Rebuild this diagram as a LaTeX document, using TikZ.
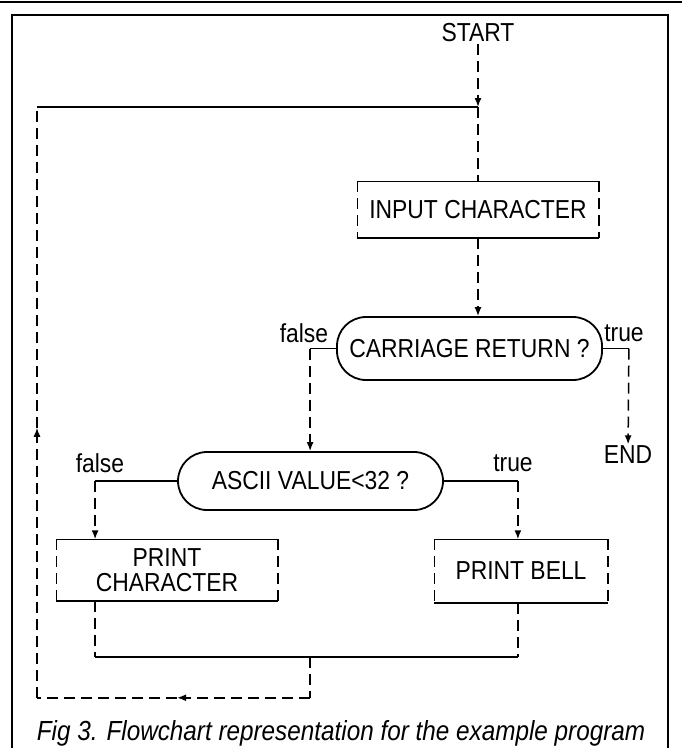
\documentclass[tikz,border=0pt]{standalone}
\usepackage{fontspec}
\setmainfont[FakeStretch=0.88]{Liberation Sans}
\usepackage{tikz}
\usetikzlibrary{positioning, arrows.meta, calc}

\newcommand{\boxfont}{\fontsize{26}{25}\selectfont}
\newcommand{\capfont}{\fontsize{27.6}{30}\selectfont\itshape}

\tikzset{
  flow/.style={dash pattern=on 11pt off 6pt},
  tip/.style={-{Latex[length=9pt, width=7pt]}},
  procbox/.style={rectangle, inner sep=0pt, font=\boxfont},
  decision/.style={rectangle, draw, line width=1.8pt, rounded corners=29pt, inner sep=0pt, font=\boxfont},
  branch/.style={inner sep=1pt, font=\boxfont},
}

\begin{document}
\begin{tikzpicture}[x=1pt, y=-1pt, line width=1.5pt]
  \useasboundingbox (0,0) rectangle (682,748);
  % Frame
  \draw[line width=2pt] (0,1.5) -- (682,1.5);
  \draw[line width=1.6pt] (12,748) -- (12,15) -- (668,15) -- (668,748);
  % Nodes
  \node[branch] (start) at (478,33) {START};
  \node[procbox, minimum width=240pt, minimum height=55pt] (input) at (478,209.5) {INPUT CHARACTER};
  \node[decision, minimum width=265pt, minimum height=63pt] (carriage) at (469.5,348.5) {CARRIAGE RETURN ?};
  \node[decision, minimum width=265pt, minimum height=58pt] (ascii) at (310.5,481) {ASCII VALUE<32 ?};
  \node[procbox, align=center, minimum width=220pt, minimum height=60pt] (printchar) at (167,570) {PRINT\\CHARACTER};
  \node[procbox, minimum width=172pt, minimum height=62pt] (printbell) at (521,571) {PRINT BELL};
  \node[branch] (end) at (628,455) {END};
  % Branch labels
  \node[branch] (crfalse) at (304,333) {false};
  \node[branch] (crtrue) at (624,333) {true};
  \node[branch] (asfalse) at (100,463) {false};
  \node[branch] (astrue) at (513,463) {true};
  % Box borders
  \foreach \b in {input, printchar, printbell} {
    \draw (\b.north west) -- (\b.north east) (\b.south west) -- (\b.south east);
    \draw[flow] (\b.north west) -- (\b.south west) (\b.north east) -- (\b.south east);
  }
  % Main line
  \coordinate (join) at (478,107);
  \draw[flow, tip] (start) -- (join);
  \draw[flow] (join) -- (input);
  \draw[flow, tip] (input) -- (input.south |- carriage.north);
  % Carriage return branches
  \draw (carriage.west) -- ++(-26,0) coordinate (crf);
  \draw[flow, tip] (crf) -- (crf |- ascii.north);
  \draw (carriage.east) -- ++(26,0) coordinate (crt);
  \draw[flow, tip] (crt) -- (end);
  % ASCII branches
  \draw (ascii.west) -- ++(-82,0) coordinate (af);
  \draw[flow, tip] (af) -- (af |- printchar.north);
  \draw (ascii.east) -- ++(74,0) coordinate (at);
  \draw[flow, tip] (at) -- (at |- printbell.north);
  % Merge
  \draw[flow] (af |- printchar.south) -- ++(0,56) coordinate (mleft);
  \draw (mleft) -- (mleft -| at) coordinate (mright);
  \draw[flow] (at |- printbell.south) -- (mright);
  % Loop back
  \draw (join) -- ++(-441,0) coordinate (tleft);
  \draw[flow] (mleft -| crf) -- ++(0,41) coordinate (bright);
  \draw[flow, tip] (bright) -- ++(-133,0) coordinate (barrow);
  \draw[flow] (barrow) -- (barrow -| tleft) coordinate (bleft);
  \draw[flow, tip] (bleft) -- ++(0,-270) coordinate (uparrow);
  \draw[flow] (uparrow) -- (tleft);
  % Caption
  \node[font=\capfont] (caption) at (341,733) {Fig 3. Flowchart representation for the example program};
\end{tikzpicture}
\end{document}
